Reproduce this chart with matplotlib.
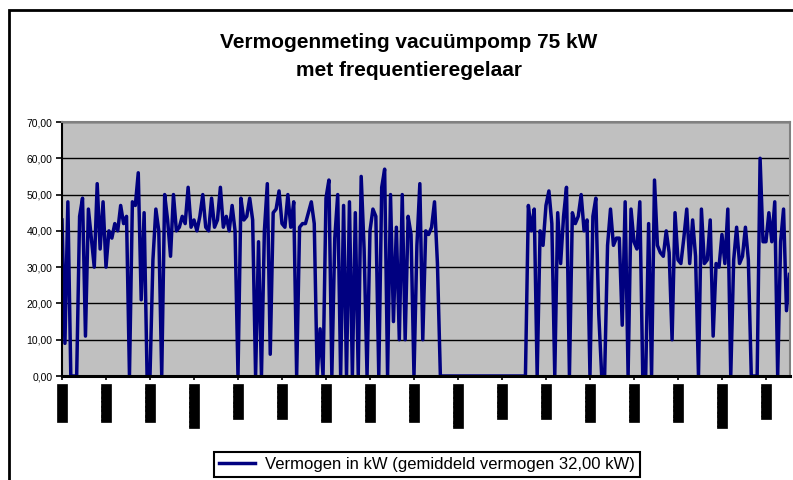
import numpy as np
import matplotlib.pyplot as plt
from matplotlib.patches import Rectangle

plt.rcParams['font.family'] = ['Liberation Sans', 'DejaVu Sans']

# gemeten vermogen (kW), ca. elke 16 minuten
vermogen = [
    43, 9, 48, 0, 0, 0, 44, 49, 11, 46,
    38, 30, 53, 35, 48, 30, 40, 38, 42, 40,
    47, 42, 44, 0, 48, 47, 56, 21, 45, 0,
    0, 32, 46, 40, 0, 50, 43, 33, 50, 40,
    41, 44, 42, 52, 41, 43, 40, 44, 50, 41,
    40, 49, 41, 43, 52, 41, 44, 40, 47, 40,
    0, 49, 43, 44, 49, 43, 0, 37, 0, 40,
    53, 6, 45, 46, 51, 42, 41, 50, 41, 48,
    0, 41, 42, 42, 45, 48, 42, 0, 13, 0,
    49, 54, 0, 38, 50, 0, 47, 0, 48, 0,
    45, 0, 55, 35, 0, 40, 46, 44, 0, 52,
    57, 0, 50, 15, 41, 10, 50, 10, 44, 39,
    0, 36, 53, 10, 40, 39, 41, 48, 31, 0,
    0, 0, 0, 0, 0, 0, 0, 0, 0, 0,
    0, 0, 0, 0, 0, 0, 0, 0, 0, 0,
    0, 0, 0, 0, 0, 0, 0, 0, 0, 47,
    40, 46, 0, 40, 36, 47, 51, 42, 0, 45,
    31, 44, 52, 0, 45, 42, 44, 50, 40, 43,
    0, 44, 49, 17, 0, 0, 36, 46, 36, 38,
    38, 14, 48, 0, 46, 37, 35, 48, 0, 0,
    42, 0, 54, 36, 34, 33, 40, 34, 10, 45,
    32, 31, 38, 46, 31, 43, 33, 0, 46, 31,
    32, 43, 11, 31, 30, 39, 31, 46, 0, 32,
    41, 31, 33, 41, 32, 0, 0, 0, 60, 37,
    37, 45, 37, 48, 0, 37, 46, 18, 28,
]

tijd_labels = [
    '13-03 12:00', '13-03 16:00', '13-03 20:00', '14-03-08 0:00', '14-03 4:00', '14-03 8:00',
    '14-03 12:00', '14-03 16:00', '14-03 20:00', '15-03-08 0:00', '15-03 4:00', '15-03 8:00',
    '15-03 12:00', '15-03 16:00', '15-03 20:00', '16-03-08 0:00', '16-03 4:00',
]
label_stap = 15

y_ticks = [0, 10, 20, 30, 40, 50, 60, 70]
y_labels = ['0,00', '10,00', '20,00', '30,00', '40,00', '50,00', '60,00', '70,00']

fig = plt.figure(figsize=(7.93, 4.8), dpi=100)

# kader rond de hele grafiek
fig.add_artist(Rectangle((8.5/793, -0.05), 1.2, (480-9.5)/480 + 0.05,
                         transform=fig.transFigure, fill=False,
                         edgecolor='black', lw=2))

ax = fig.add_axes([62/793, 104/480, 728/793, 254/480])
ax.set_facecolor('#C0C0C0')

x = np.arange(len(vermogen))
ax.plot(x, vermogen, color='#000080', lw=2.5,
        label='Vermogen in kW (gemiddeld vermogen 32,00 kW)')

ax.set_xlim(0, 248.2)
ax.set_ylim(0, 70)

ax.set_yticks(y_ticks)
ax.set_yticklabels(y_labels, fontsize=7.5)
ax.yaxis.grid(True, color='black', lw=1)
ax.set_axisbelow(True)

# de tijdlabels zijn in het origineel dichtgelopen tot zwarte balkjes
ax.set_xticks(np.arange(0, label_stap*len(tijd_labels), label_stap))
ax.set_xticklabels(tijd_labels, rotation=90, fontsize=4.8, color='black',
                   bbox=dict(boxstyle='square,pad=0.2', fc='black', ec='black', lw=0.5))
ax.tick_params(axis='x', length=3, width=1.2, pad=4, direction='out')
ax.tick_params(axis='y', length=4, width=1.2, pad=3, direction='out')

for kant in ['top', 'right']:
    ax.spines[kant].set_color('#808080')
    ax.spines[kant].set_linewidth(1.5)
ax.spines['left'].set_linewidth(1.5)
ax.spines['bottom'].set_linewidth(2.2)

fig.text(409/793, 1-42/480, 'Vermogenmeting vacuümpomp 75 kW',
         ha='center', va='center', fontsize=15, fontweight='bold')
fig.text(409/793, 1-71/480, 'met frequentieregelaar',
         ha='center', va='center', fontsize=15, fontweight='bold')

leg = ax.legend(loc='center', bbox_to_anchor=(427/793, 1-464/480),
                bbox_transform=fig.transFigure, fontsize=12, frameon=True,
                fancybox=False, edgecolor='black', framealpha=1,
                handlelength=2.2, borderpad=0.3, handletextpad=0.6)
leg.get_frame().set_linewidth(1.5)

fig.savefig('out.png', dpi=100)
